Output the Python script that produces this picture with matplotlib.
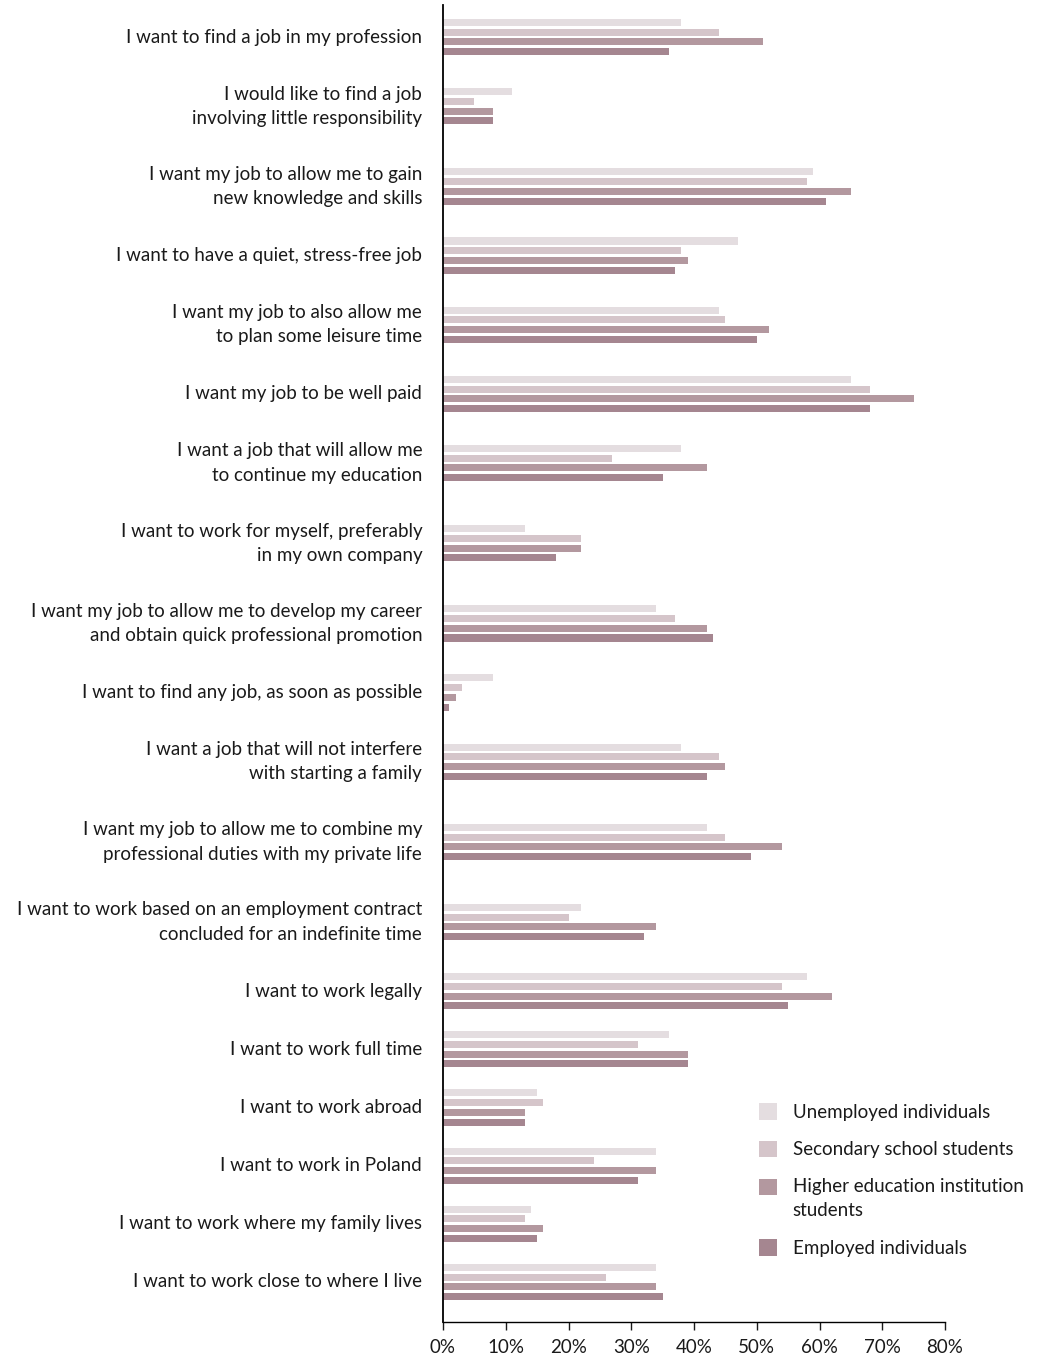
import numpy as np
import matplotlib.pyplot as plt
from matplotlib.ticker import FuncFormatter

plt.rcParams['font.family'] = ['Lato', 'DejaVu Sans']

categories = [
    "I want to find a job in my profession",
    "I would like to find a job\ninvolving little responsibility",
    "I want my job to allow me to gain\nnew knowledge and skills",
    "I want to have a quiet, stress-free job",
    "I want my job to also allow me\nto plan some leisure time",
    "I want my job to be well paid",
    "I want a job that will allow me\nto continue my education",
    "I want to work for myself, preferably\nin my own company",
    "I want my job to allow me to develop my career\nand obtain quick professional promotion",
    "I want to find any job, as soon as possible",
    "I want a job that will not interfere\nwith starting a family",
    "I want my job to allow me to combine my\nprofessional duties with my private life",
    "I want to work based on an employment contract\nconcluded for an indefinite time",
    "I want to work legally",
    "I want to work full time",
    "I want to work abroad",
    "I want to work in Poland",
    "I want to work where my family lives",
    "I want to work close to where I live",
]

series_names = [
    "Unemployed individuals",
    "Secondary school students",
    "Higher education institution\nstudents",
    "Employed individuals",
]

unemployed = [38, 11, 59, 47, 44, 65, 38, 13, 34, 8, 38, 42, 22, 58, 36, 15, 34, 14, 34]
secondary = [44, 5, 58, 38, 45, 68, 27, 22, 37, 3, 44, 45, 20, 54, 31, 16, 24, 13, 26]
higher = [51, 8, 65, 39, 52, 75, 42, 22, 42, 2, 45, 54, 34, 62, 39, 13, 34, 16, 34]
employed = [36, 8, 61, 37, 50, 68, 35, 18, 43, 1, 42, 49, 32, 55, 39, 13, 31, 15, 35]

colors = ['#e4dde0', '#d5c5ca', '#b3989f', '#a58690']

# row positions: two-line labels get a taller row
nlines = [c.count('\n') + 1 for c in categories]
y = [0.0]
for a, b in zip(nlines[:-1], nlines[1:]):
    y.append(y[-1] + 58 + 11 * (a - 1) + 11 * (b - 1))
y = np.array(y)

fig = plt.figure(figsize=(10.46, 13.57), dpi=100)
ax = fig.add_axes([0.4235, 0.0258, 0.48, 0.9705])

bar_h = 7
step = 9.7
for i, (vals, name) in enumerate(zip([unemployed, secondary, higher, employed], series_names)):
    ax.barh(y + (i - 1.5) * step, vals, height=bar_h, color=colors[i], label=name)

ax.set_ylim(y[-1] + 40, -32)
ax.set_xlim(0, 80)
ax.set_xticks(np.arange(0, 81, 10))
ax.xaxis.set_major_formatter(FuncFormatter(lambda v, p: f"{int(v)}%"))
ax.set_yticks(y)
ax.set_yticklabels(categories, fontsize=13.5, color='#1a1a1a', linespacing=1.52)
for lab in ax.get_yticklabels():
    lab.set_verticalalignment('center')
ax.tick_params(axis='y', length=0, pad=15)
ax.tick_params(axis='x', labelsize=13.5, length=6, width=1, pad=6, colors='#1a1a1a')

for s in ['top', 'right']:
    ax.spines[s].set_visible(False)
ax.spines['left'].set_linewidth(1.3)
ax.spines['bottom'].set_linewidth(1)

leg = ax.legend(loc='upper left', bbox_to_anchor=(0.7165, 0.1938), bbox_transform=fig.transFigure,
                frameon=False, fontsize=13.5, handlelength=0.95, handleheight=0.95,
                handletextpad=0.85, labelspacing=1.06, borderpad=0)
for t in leg.get_texts():
    t.set_color('#1a1a1a')
    t.set_linespacing(1.52)
# square for the two-line entry sits next to its first line
h = leg.legend_handles[2]
h.set_y(h.get_y() + 9)

fig.savefig('out.png', dpi=100)
